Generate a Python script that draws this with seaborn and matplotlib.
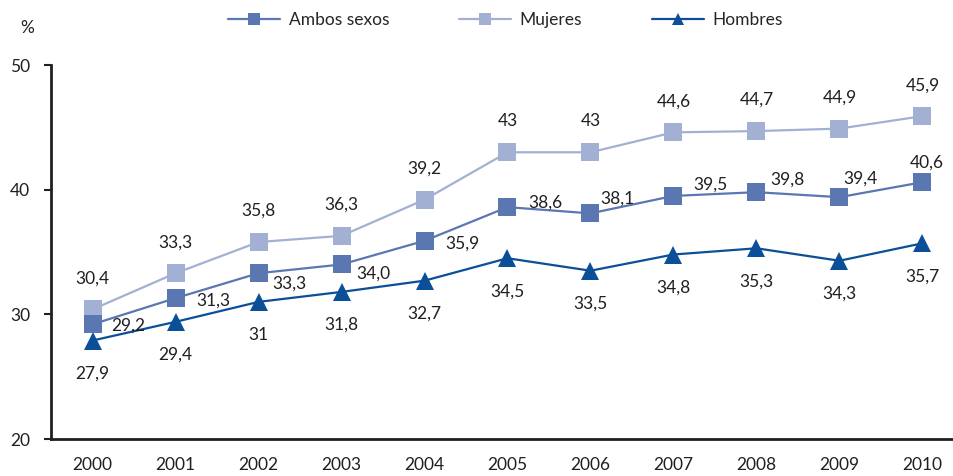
import numpy as np
import pandas as pd
import seaborn as sns
from matplotlib import pyplot as plt
from matplotlib.lines import Line2D

years = ['2000', '2001', '2002', '2003', '2004', '2005', '2006', '2007', '2008', '2009', '2010']
ambos = [29.2, 31.3, 33.3, 34.0, 35.9, 38.6, 38.1, 39.5, 39.8, 39.4, 40.6]
mujeres = [30.4, 33.3, 35.8, 36.3, 39.2, 43, 43, 44.6, 44.7, 44.9, 45.9]
hombres = [27.9, 29.4, 31, 31.8, 32.7, 34.5, 33.5, 34.8, 35.3, 34.3, 35.7]
ambos_lbl = ['29,2', '31,3', '33,3', '34,0', '35,9', '38,6', '38,1', '39,5', '39,8', '39,4', '40,6']
mujeres_lbl = ['30,4', '33,3', '35,8', '36,3', '39,2', '43', '43', '44,6', '44,7', '44,9', '45,9']
hombres_lbl = ['27,9', '29,4', '31', '31,8', '32,7', '34,5', '33,5', '34,8', '35,3', '34,3', '35,7']

series = ['Ambos sexos', 'Mujeres', 'Hombres']
colors = {'Ambos sexos': '#5b77b1', 'Mujeres': '#a2b0d4', 'Hombres': '#0b4f98'}
markers = {'Ambos sexos': 's', 'Mujeres': 's', 'Hombres': '^'}

# where the "Ambos sexos" labels sit relative to their marker (pixels)
ambos_off = [(36, -1), (38, -2), (31, -10), (32, -9), (38, -3), (38, 5),
             (27, 15), (37, 11), (31, 13), (21, 19), (4, 20)]

pos = np.arange(len(years))
df = pd.DataFrame({
    'pos': np.tile(pos, 3),
    'valor': ambos + mujeres + hombres,
    'serie': np.repeat(series, len(years)),
})

sns.set_style('white')
plt.rcParams['font.family'] = ['Lato', 'DejaVu Sans']

fig = plt.figure(figsize=(9.54, 4.76), dpi=100)
ax = fig.add_axes([0.0535, 0.0777, 0.9465, 0.7857])

sns.lineplot(data=df, x='pos', y='valor', hue='serie', style='serie',
             palette=colors, markers=markers, dashes=False, hue_order=series[::-1],
             style_order=series[::-1],
             markersize=13, linewidth=1.6, markeredgewidth=0, legend=False, ax=ax)

txt = dict(fontsize=12.5, color='#231f20', ha='center', va='center',
           textcoords='offset pixels')
for i in pos:
    ax.annotate(mujeres_lbl[i], (i, mujeres[i]), xytext=(0, 31), **txt)
    ax.annotate(ambos_lbl[i], (i, ambos[i]), xytext=ambos_off[i], **txt)
    ax.annotate(hombres_lbl[i], (i, hombres[i]), xytext=(0, -33), **txt)

ax.set_xlim(-0.5, 10.38)
ax.set_ylim(20, 50)
ax.set_yticks([20, 30, 40, 50])
ax.set_xticks(pos)
ax.set_xticklabels(years)
ax.set_xticks(np.arange(-0.5, 10.5, 1), minor=True)
ax.tick_params(axis='x', which='major', length=0, pad=13, labelsize=12.5, labelcolor='#231f20')
ax.tick_params(axis='x', which='minor', length=5, width=1.5, direction='out', color='#231f20')
ax.tick_params(axis='y', length=5, width=1.5, direction='out', pad=10, labelsize=12.5,
               labelcolor='#231f20', color='#231f20', left=True)
ax.set_xlabel('')
ax.set_ylabel('')
for s in ['top', 'right']:
    ax.spines[s].set_visible(False)
for s in ['left', 'bottom']:
    ax.spines[s].set_linewidth(2)
    ax.spines[s].set_color('#231f20')

fig.text(0.028, 0.941, '%', fontsize=12.5, color='#231f20', ha='center', va='center')

handles = [Line2D([], [], color=colors[s], marker=markers[s], markersize=8,
                  markeredgewidth=0, linewidth=1.6) for s in series]
fig.legend(handles, series, loc='center', bbox_to_anchor=(0.53, 0.958), ncol=3,
           frameon=False, fontsize=12.5, handlelength=3.0, columnspacing=4.0,
           handletextpad=0.5)

fig.savefig('out.png', dpi=100)
